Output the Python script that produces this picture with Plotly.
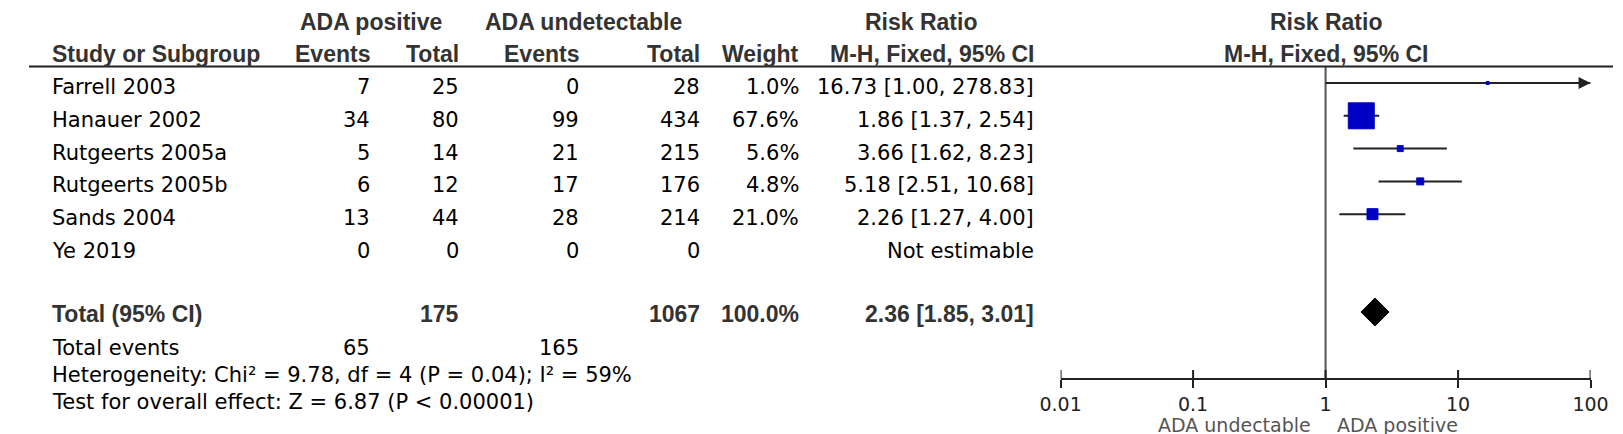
import math
import plotly.graph_objects as go

# ---------------- data ----------------
studies = ["Farrell 2003", "Hanauer 2002", "Rutgeerts 2005a", "Rutgeerts 2005b", "Sands 2004", "Ye 2019"]
pos_events = [7, 34, 5, 6, 13, 0]
pos_total = [25, 80, 14, 12, 44, 0]
und_events = [0, 99, 21, 17, 28, 0]
und_total = [28, 434, 215, 176, 214, 0]
weights = [1.0, 67.6, 5.6, 4.8, 21.0, None]
rr = [16.73, 1.86, 3.66, 5.18, 2.26, None]
ci_low = [1.00, 1.37, 1.62, 2.51, 1.27, None]
ci_high = [278.83, 2.54, 8.23, 10.68, 4.00, None]

total_pos = 175
total_und = 1067
total_weight = 100.0
total_rr, total_lo, total_hi = 2.36, 1.85, 3.01
events_pos = 65
events_und = 165
heterogeneity = "Heterogeneity: Chi² = 9.78, df = 4 (P = 0.04); I² = 59%"
overall = "Test for overall effect: Z = 6.87 (P < 0.00001)"

tick_vals = [0.01, 0.1, 1, 10, 100]
tick_text = ["0.01", "0.1", "1", "10", "100"]
favours_left = "ADA undectable"
favours_right = "ADA positive"

# ---------------- layout / style ----------------
W, H = 1623, 434
BODY = "DejaVu Sans"
HEAD = "Liberation Sans, Arial"
box_size = [3, 26, 6, 7, 11, 0]
BLUE = "#0000c4"
DARK = "#222222"

row0, row_h = 75.0, 32.8
row_y = [row0 + i * row_h for i in range(len(studies))]
total_y = 304
foot_y = [340, 367, 394]
text_dy = 4
head1_y, head2_y, rule_y = 14, 46, 58.5
axis_y = 371
plot_x0, plot_x1 = 1057, 1600

col_name = 21
col_e1, col_t1, col_e2, col_t2, col_w, col_rr = 351, 443, 566, 690, 791, 1032

fig = go.Figure()
ann = []


def txt(s, x, y, anchor="right", bold=False, size=21, color="#000000", xref="x", xshift=0, font=None):
    ann.append(dict(
        text=f"<b>{s}</b>" if bold else s,
        x=x, y=y, xref=xref, yref="y", xanchor=anchor, yanchor="middle",
        showarrow=False, xshift=xshift,
        font=dict(family=font or (HEAD if bold else BODY), size=size, color=color),
    ))


# headers
HC = "#333333"
txt("ADA positive", 350, head1_y, "center", True, 23, HC)
txt("ADA undetectable", 568, head1_y, "center", True, 23, HC)
txt("Risk Ratio", 914, head1_y, "center", True, 23, HC)
txt("Risk Ratio", 0, head1_y, "center", True, 23, HC, xref="x2")
txt("Study or Subgroup", col_name, head2_y, "left", True, 23, HC)
for lab, cx in [("Events", col_e1), ("Total", col_t1), ("Events", col_e2), ("Total", col_t2),
                ("Weight", col_w), ("M-H, Fixed, 95% CI", col_rr)]:
    txt(lab, cx, head2_y, "right", True, 23, HC)
txt("M-H, Fixed, 95% CI", 0, head2_y, "center", True, 23, HC, xref="x2")

# study rows
for i, s in enumerate(studies):
    y = row_y[i] + text_dy
    txt(s, col_name, y, "left")
    txt(str(pos_events[i]), col_e1, y)
    txt(str(pos_total[i]), col_t1, y)
    txt(str(und_events[i]), col_e2, y)
    txt(str(und_total[i]), col_t2, y)
    if weights[i] is not None:
        txt(f"{weights[i]:.1f}%", col_w, y)
    if rr[i] is not None:
        txt(f"{rr[i]:.2f} [{ci_low[i]:.2f}, {ci_high[i]:.2f}]", col_rr, y)
    else:
        txt("Not estimable", col_rr, y)

# total row
ty = total_y + 2
txt("Total (95% CI)", col_name, ty, "left", True, 23, HC)
txt(str(total_pos), col_t1, ty, "right", True, 23, HC)
txt(str(total_und), col_t2, ty, "right", True, 23, HC)
txt(f"{total_weight:.1f}%", col_w, ty, "right", True, 23, HC)
txt(f"{total_rr:.2f} [{total_lo:.2f}, {total_hi:.2f}]", col_rr, ty, "right", True, 23, HC)

# footers
txt("Total events", col_name, foot_y[0], "left")
txt(str(events_pos), col_e1, foot_y[0])
txt(str(events_und), col_e2, foot_y[0])
txt(heterogeneity, col_name, foot_y[1], "left")
txt(overall, col_name, foot_y[2], "left")

# favours labels
txt(favours_left, 0, 417, "right", False, 19, "#555555", xref="x2", xshift=-13)
txt(favours_right, 0, 417, "left", False, 19, "#555555", xref="x2", xshift=9)

# ---------------- forest plot ----------------
xmin, xmax = tick_vals[0], tick_vals[-1]

# null line
fig.add_trace(go.Scatter(x=[1, 1], y=[rule_y, axis_y], xaxis="x2", yaxis="y2", mode="lines",
                         line=dict(color="#555555", width=2), hoverinfo="skip", showlegend=False))

# CI lines
cx, cy = [], []
for i in range(len(studies)):
    if rr[i] is None:
        continue
    cx += [max(ci_low[i], xmin), min(ci_high[i], xmax), None]
    cy += [row_y[i], row_y[i], None]
fig.add_trace(go.Scatter(x=cx, y=cy, xaxis="x2", yaxis="y2", mode="lines",
                         line=dict(color=DARK, width=2), hoverinfo="skip", showlegend=False))

# arrows for CIs beyond the axis
for i in range(len(studies)):
    if rr[i] is not None and ci_high[i] > xmax:
        ann.append(dict(x=math.log10(xmax), y=row_y[i], xref="x2", yref="y2", ax=-14, ay=0,
                        showarrow=True, arrowhead=2, arrowsize=1.2, arrowwidth=2,
                        arrowcolor=DARK, text=""))

# boxes
bx = [rr[i] for i in range(len(studies)) if rr[i] is not None]
by = [row_y[i] for i in range(len(studies)) if rr[i] is not None]
bs = [box_size[i] for i in range(len(studies)) if rr[i] is not None]
fig.add_trace(go.Scatter(x=bx, y=by, xaxis="x2", yaxis="y2", mode="markers",
                         marker=dict(symbol="square", size=bs, color=BLUE, opacity=1,
                                     line=dict(width=1, color=BLUE)),
                         hoverinfo="skip", showlegend=False, cliponaxis=False))

# diamond
dh = 14
fig.add_trace(go.Scatter(x=[total_lo, total_rr, total_hi, total_rr, total_lo],
                         y=[total_y, total_y - dh, total_y, total_y + dh, total_y],
                         xaxis="x2", yaxis="y2", mode="lines", fill="toself", fillcolor="#000000",
                         line=dict(color="#000000", width=1), hoverinfo="skip", showlegend=False))

# upward tick stubs
sx, sy = [], []
for t in tick_vals:
    sx += [t, t, None]
    sy += [axis_y - 9, axis_y, None]
fig.add_trace(go.Scatter(x=sx, y=sy, xaxis="x2", yaxis="y2", mode="lines",
                         line=dict(color=DARK, width=2), hoverinfo="skip", showlegend=False))

# header rule
shapes = [dict(type="line", xref="paper", yref="y", x0=0, x1=1, y0=rule_y, y1=rule_y,
               line=dict(color="#222222", width=2))]

fig.update_layout(
    width=W, height=H,
    margin=dict(l=0, r=0, t=0, b=0),
    paper_bgcolor="white", plot_bgcolor="white",
    xaxis=dict(range=[0, W], domain=[0, 1], visible=False, fixedrange=True),
    yaxis=dict(range=[H, 0], domain=[0, 1], visible=False, fixedrange=True),
    xaxis2=dict(type="log", range=[math.log10(xmin), math.log10(xmax)],
                domain=[plot_x0 / W, plot_x1 / W], anchor="free", position=1 - axis_y / H,
                showline=True, linecolor=DARK, linewidth=2, showgrid=False, zeroline=False,
                ticks="outside", ticklen=8, tickwidth=2, tickcolor=DARK,
                tickvals=tick_vals, ticktext=tick_text,
                tickfont=dict(family=BODY, size=19, color=DARK), fixedrange=True),
    yaxis2=dict(range=[H, 0], domain=[0, 1], anchor="x2", overlaying="y", visible=False,
                fixedrange=True),
    annotations=ann,
    shapes=shapes,
    showlegend=False,
)

fig.write_html("out.html", config={"displayModeBar": False})
